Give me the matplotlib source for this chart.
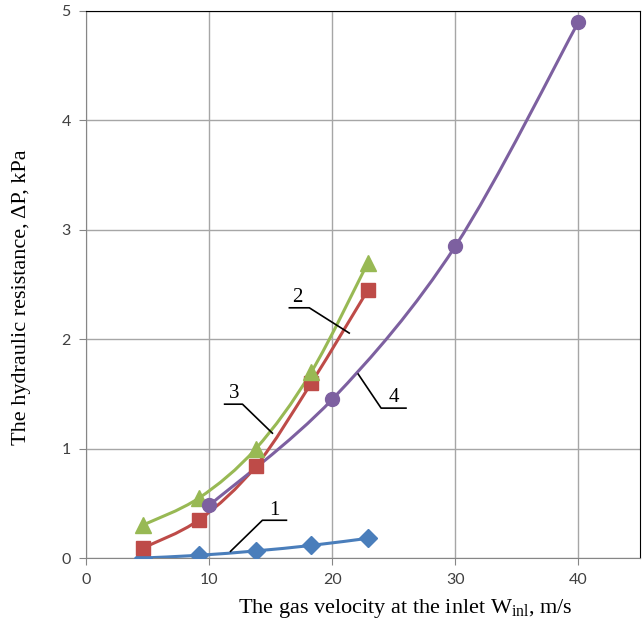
import numpy as np
import matplotlib
matplotlib.use("Agg")
import matplotlib.pyplot as plt
from matplotlib.path import Path
from matplotlib.patches import PathPatch

# data
vel = [4.6, 9.2, 13.8, 18.3, 22.9]
dp1 = [0.0, 0.025, 0.065, 0.115, 0.18]
dp2 = [0.09, 0.35, 0.84, 1.60, 2.45]
dp3 = [0.30, 0.55, 1.00, 1.70, 2.70]
vel4 = [10, 20, 30, 40]
dp4 = [0.48, 1.45, 2.85, 4.90]

curve_labels = ["1", "2", "3", "4"]
# label position, leader line (text end, elbow, curve end)
label_pos = [(15.30, 0.436), (17.17, 2.385), (12.06, 1.507), (25.02, 1.470)]
leaders = [
    [(16.28, 0.345), (14.33, 0.345), (11.74, 0.061)],
    [(16.52, 2.287), (18.14, 2.287), (21.38, 2.056)],
    [(11.26, 1.406), (12.71, 1.406), (15.14, 1.141)],
    [(25.99, 1.370), (23.97, 1.370), (22.11, 1.681)],
]

plt.rcParams["mathtext.fontset"] = "custom"
plt.rcParams["mathtext.rm"] = "Liberation Serif"
plt.rcParams["mathtext.it"] = "Liberation Serif:italic"


def smooth_path(xs, ys):
    # excel-like smoothed line: bezier with catmull-rom control points
    p = np.column_stack([xs, ys]).astype(float)
    ext = np.vstack([p[0], p, p[-1]])
    verts = [p[0]]
    codes = [Path.MOVETO]
    for i in range(len(p) - 1):
        p0, p1, p2, p3 = ext[i], ext[i + 1], ext[i + 2], ext[i + 3]
        verts += [p1 + (p2 - p0) / 6, p2 - (p3 - p1) / 6, p2]
        codes += [Path.CURVE4] * 3
    return Path(verts, codes)


fig = plt.figure(figsize=(6.42, 6.24), dpi=100)
ax = fig.add_axes([86 / 642, 66 / 624, 554 / 642, 547 / 624])

series = [
    (vel, dp1, "#4a7ebb", "D", 9),
    (vel, dp2, "#be4b48", "s", 10),
    (vel, dp3, "#98b954", "^", 11),
    (vel4, dp4, "#7d60a0", "o", 10),
]
for xs, ys, col, mk, ms in series:
    ax.add_patch(PathPatch(smooth_path(xs, ys), fill=False, edgecolor=col, lw=2.2, zorder=3))
    ax.plot(xs, ys, ls="none", marker=mk, ms=ms, color=col, mec=col, zorder=4)

for lab, (tx, ty), pts in zip(curve_labels, label_pos, leaders):
    ax.plot([q[0] for q in pts], [q[1] for q in pts], color="black", lw=1.2, zorder=5)
    ax.text(tx, ty, lab, fontsize=15, family="Liberation Serif", ha="center", va="center", zorder=5)

ax.set_xlim(0, 45)
ax.set_ylim(0, 5)
ax.set_xticks([0, 10, 20, 30, 40])
ax.set_yticks([0, 1, 2, 3, 4, 5])
ax.grid(True, color="#a6a6a6", lw=1)
ax.set_axisbelow(True)
for s in ["left", "bottom"]:
    ax.spines[s].set_color("#868686")
for s in ["top", "right"]:
    ax.spines[s].set_color("black")
ax.tick_params(direction="out", length=5, color="#868686", labelsize=11.5, labelcolor="#404040", pad=6)
for t in ax.get_xticklabels() + ax.get_yticklabels():
    t.set_family("Lato")

fig.text(405 / 642, 1 - 608 / 624, r"The gas velocity at the inlet W$_{\rm inl}$, m/s",
         fontsize=16, family="Liberation Serif", ha="center", va="center")
fig.text(22 / 642, 1 - 297 / 624, "The hydraulic resistance, \u0394P, kPa",
         fontsize=16, family="Liberation Serif", ha="center", va="center", rotation=90)

fig.savefig("out.png", dpi=100)
